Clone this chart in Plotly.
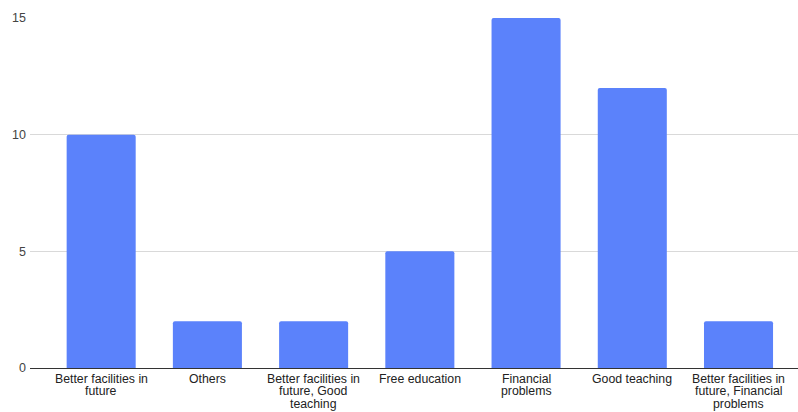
import plotly.graph_objects as go

categories = [
    "Better facilities in<br>future",
    "Others",
    "Better facilities in<br>future, Good<br>teaching",
    "Free education",
    "Financial<br>problems",
    "Good teaching",
    "Better facilities in<br>future, Financial<br>problems",
]
counts = [10, 2, 2, 5, 15, 12, 2]
y_ticks = [0, 5, 10, 15]

LABEL_SIZE = 12.3
LINE_STEP = 12.3  # tight line spacing for the wrapped category labels

fig = go.Figure(
    go.Bar(
        x=list(range(len(categories))),
        y=counts,
        width=0.65,
        marker=dict(color="#5b82fb", line=dict(width=0), cornerradius=2),
        hoverinfo="y",
    )
)

# Category labels drawn line by line under each bar so the wrap stays compact
annotations = []
for i, label in enumerate(categories):
    for j, line in enumerate(label.split("<br>")):
        annotations.append(
            dict(
                x=i,
                xref="x",
                y=0,
                yref="y",
                yanchor="top",
                xanchor="center",
                yshift=-(3 + j * LINE_STEP),
                text=line,
                showarrow=False,
                borderpad=0,
                font=dict(size=LABEL_SIZE, color="#222222"),
            )
        )

fig.update_layout(
    width=798,
    height=412,
    margin=dict(l=30, r=0, t=18, b=44),
    paper_bgcolor="white",
    plot_bgcolor="white",
    showlegend=False,
    font=dict(family="Liberation Sans, Arial, sans-serif", size=12, color="#222222"),
    annotations=annotations,
    xaxis=dict(
        range=[-0.67, 6.56],
        showgrid=False,
        showline=False,
        zeroline=False,
        showticklabels=False,
        ticks="",
    ),
    yaxis=dict(
        range=[0, 15],
        tickmode="array",
        tickvals=y_ticks,
        ticktext=[str(v) for v in y_ticks],
        showgrid=True,
        gridcolor="#d9d9d9",
        gridwidth=1,
        zeroline=True,
        zerolinecolor="#333333",
        zerolinewidth=1,
        showline=False,
        ticks="",
        ticklabelstandoff=3,
        tickfont=dict(size=12.5, color="#444444"),
    ),
)

fig.write_html("out.html")
